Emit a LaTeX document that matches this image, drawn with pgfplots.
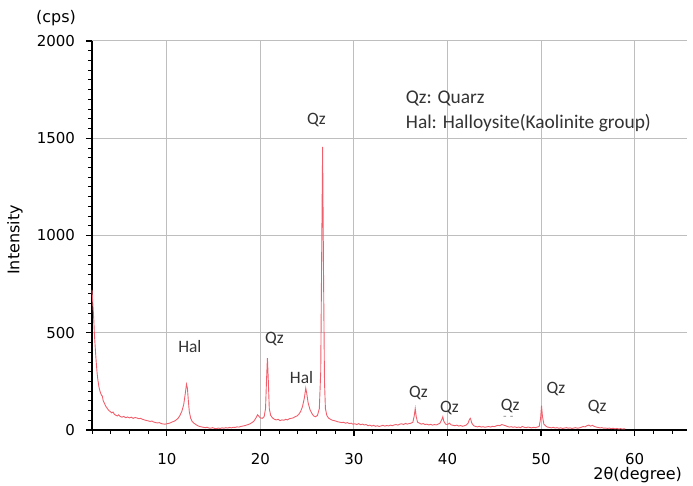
\documentclass[border=0pt]{standalone}
\usepackage{fontspec}
\setmainfont{DejaVu Sans}
\newfontfamily\calfont{Carlito}
\usepackage{pgfplots}
\pgfplotsset{compat=1.18}
\definecolor{xrd}{RGB}{240,95,108}
\definecolor{gridgray}{RGB}{190,190,190}
\begin{document}
\begin{tikzpicture}
\useasboundingbox (-46pt,-28pt) rectangle (300.5pt,215pt);
\begin{axis}[
  at={(0pt,0pt)}, anchor=south west,
  scale only axis, width=297.5pt, height=194.5pt,
  xmin=2, xmax=65.6, ymin=0, ymax=2000,
  axis x line*=bottom, axis y line*=left,
  axis line style={black, line width=0.9pt, -},
  xtick={10,20,30,40,50,60},
  minor xtick={2,4,...,64},
  ytick={0,500,1000,1500,2000},
  minor ytick={50,100,...,1950},
  tick align=outside,
  major tick length=3pt, minor tick length=2pt,
  tick style={black, line width=0.6pt},
  minor tick style={black, line width=0.4pt},
  grid=major,
  major grid style={gridgray, line width=0.5pt},
  tick label style={font=\fontsize{7.5}{9}\selectfont},
  /pgf/number format/assume math mode=true,
  /pgf/number format/1000 sep={},
  xticklabel style={yshift=-5pt},
  yticklabel style={xshift=-2pt},
  clip=false,
]
\addplot[xrd, line width=0.45pt] table {
2.00 720
2.05 680
2.10 640
2.15 600
2.20 560
2.25 500
2.30 460
2.35 420
2.45 350
2.55 290
2.65 250
2.75 220
2.85 200
3.00 180
3.10 175
3.20 150
3.35 135
3.50 120
3.65 110
3.80 100
3.95 95
4.10 88
4.25 92
4.40 80
4.55 76
4.70 72
4.85 78
5.00 70
5.20 66
5.40 70
5.60 63
5.80 67
6.00 62
6.20 66
6.40 60
6.60 64
6.80 62
7.00 58
7.20 60
7.40 55
7.60 52
7.80 49
8.00 47
8.20 44
8.40 46
8.60 41
8.80 38
9.00 36
9.20 38
9.40 33
9.60 31
9.80 30
10.00 32
10.20 34
10.40 37
10.60 42
10.80 45
11.00 52
11.20 60
11.40 75
11.60 95
11.80 130
11.95 180
12.10 235
12.20 215
12.30 150
12.40 95
12.55 60
12.70 45
12.90 35
13.10 28
13.30 22
13.50 18
13.70 16
13.90 14
14.10 12
14.30 14
14.50 10
14.70 9
14.90 12
15.10 8
15.30 7
15.50 10
15.70 8
15.90 11
16.10 9
16.30 12
16.50 10
16.70 13
16.90 11
17.10 14
17.30 13
17.50 16
17.70 15
17.90 18
18.10 20
18.30 22
18.50 25
18.70 28
18.90 32
19.10 38
19.30 45
19.50 60
19.70 78
19.85 70
20.00 62
20.20 60
20.40 68
20.55 110
20.65 250
20.75 370
20.85 250
20.95 110
21.10 75
21.30 62
21.50 55
21.70 52
21.90 55
22.10 48
22.30 52
22.50 50
22.70 55
22.90 52
23.10 58
23.30 60
23.50 62
23.70 68
23.90 72
24.10 80
24.30 95
24.50 120
24.70 165
24.85 215
24.95 190
25.10 140
25.30 105
25.50 85
25.70 72
25.90 68
26.10 75
26.30 110
26.45 300
26.55 900
26.65 1455
26.75 800
26.85 250
26.95 110
27.10 75
27.30 60
27.50 55
27.70 50
27.90 48
28.10 45
28.30 42
28.50 40
28.70 38
28.90 40
29.10 35
29.30 38
29.50 33
29.70 35
29.90 30
30.10 32
30.30 28
30.50 33
30.70 27
30.90 30
31.10 26
31.30 28
31.50 22
31.70 25
31.90 20
32.10 24
32.30 19
32.50 22
32.70 18
32.90 21
33.10 24
33.30 20
33.50 23
33.70 21
33.90 25
34.10 22
34.30 26
34.50 28
34.70 25
34.90 30
35.10 32
35.30 28
35.50 34
35.70 30
35.90 33
36.10 35
36.30 40
36.45 75
36.55 110
36.65 70
36.80 40
37.00 35
37.20 30
37.40 33
37.60 28
37.80 30
38.00 26
38.20 29
38.40 25
38.60 28
38.80 26
39.00 30
39.20 35
39.40 55
39.50 68
39.60 45
39.80 30
40.00 28
40.20 35
40.40 26
40.60 24
40.80 22
41.00 25
41.20 20
41.40 23
41.60 19
41.80 22
42.00 25
42.20 35
42.35 55
42.45 60
42.60 35
42.80 22
43.00 18
43.20 16
43.40 19
43.60 15
43.80 17
44.00 14
44.20 16
44.40 18
44.60 15
44.80 19
45.00 17
45.20 21
45.40 24
45.60 22
45.80 28
46.00 25
46.20 22
46.40 18
46.60 15
46.80 17
47.00 14
47.20 16
47.40 13
47.60 15
47.80 12
48.00 18
48.20 14
48.40 12
48.60 15
48.80 13
49.00 11
49.20 14
49.40 12
49.60 15
49.80 18
49.95 60
50.05 125
50.15 70
50.30 30
50.50 20
50.70 15
50.90 13
51.10 11
51.30 14
51.50 10
51.70 12
51.90 9
52.10 11
52.30 8
52.50 10
52.70 12
52.90 9
53.10 11
53.30 8
53.50 10
53.70 12
53.90 9
54.10 11
54.30 14
54.50 18
54.70 16
54.90 22
55.10 25
55.30 20
55.50 24
55.70 18
55.90 15
56.10 13
56.30 11
56.50 12
56.70 9
56.90 10
57.10 8
57.30 10
57.50 7
57.70 9
57.90 6
58.10 8
58.30 5
58.50 7
58.70 5
58.90 6
59.00 5
};
\begin{scope}[every node/.style={font=\calfont\fontsize{8.7}{10}\selectfont, text=black!80}]
\node at (axis cs:12.46,427) {Hal};
\node at (axis cs:21.5,468) {Qz};
\node at (axis cs:24.4,272) {Hal};
\node at (axis cs:26.0,1593) {Qz};
\node at (axis cs:36.9,190) {Qz};
\node at (axis cs:40.2,113) {Qz};
\node at (axis cs:46.7,123) {Qz};
\node at (axis cs:51.6,211) {Qz};
\node at (axis cs:56.0,118) {Qz};
\end{scope}
\node[font=\tiny, text=black!50] at (axis cs:46.5,62) {- -};
\node[anchor=west, font=\calfont\fontsize{9.7}{11}\selectfont, text=black!80] at (axis cs:34.8,1706) {Qz: Quarz};
\node[anchor=west, font=\calfont\fontsize{9.7}{11}\selectfont, text=black!80] at (axis cs:34.8,1578) {Hal: Halloysite(Kaolinite group)};
\end{axis}
\node[font=\fontsize{8}{10}\selectfont] at (-18pt,206pt) {(cps)};
\node[font=\fontsize{8}{10}\selectfont, rotate=90] at (-38.5pt,95pt) {Intensity};
\node[font=\fontsize{8}{10}\selectfont, anchor=east] at (298.5pt,-22.5pt) {2θ(degree)};
\end{tikzpicture}
\end{document}
